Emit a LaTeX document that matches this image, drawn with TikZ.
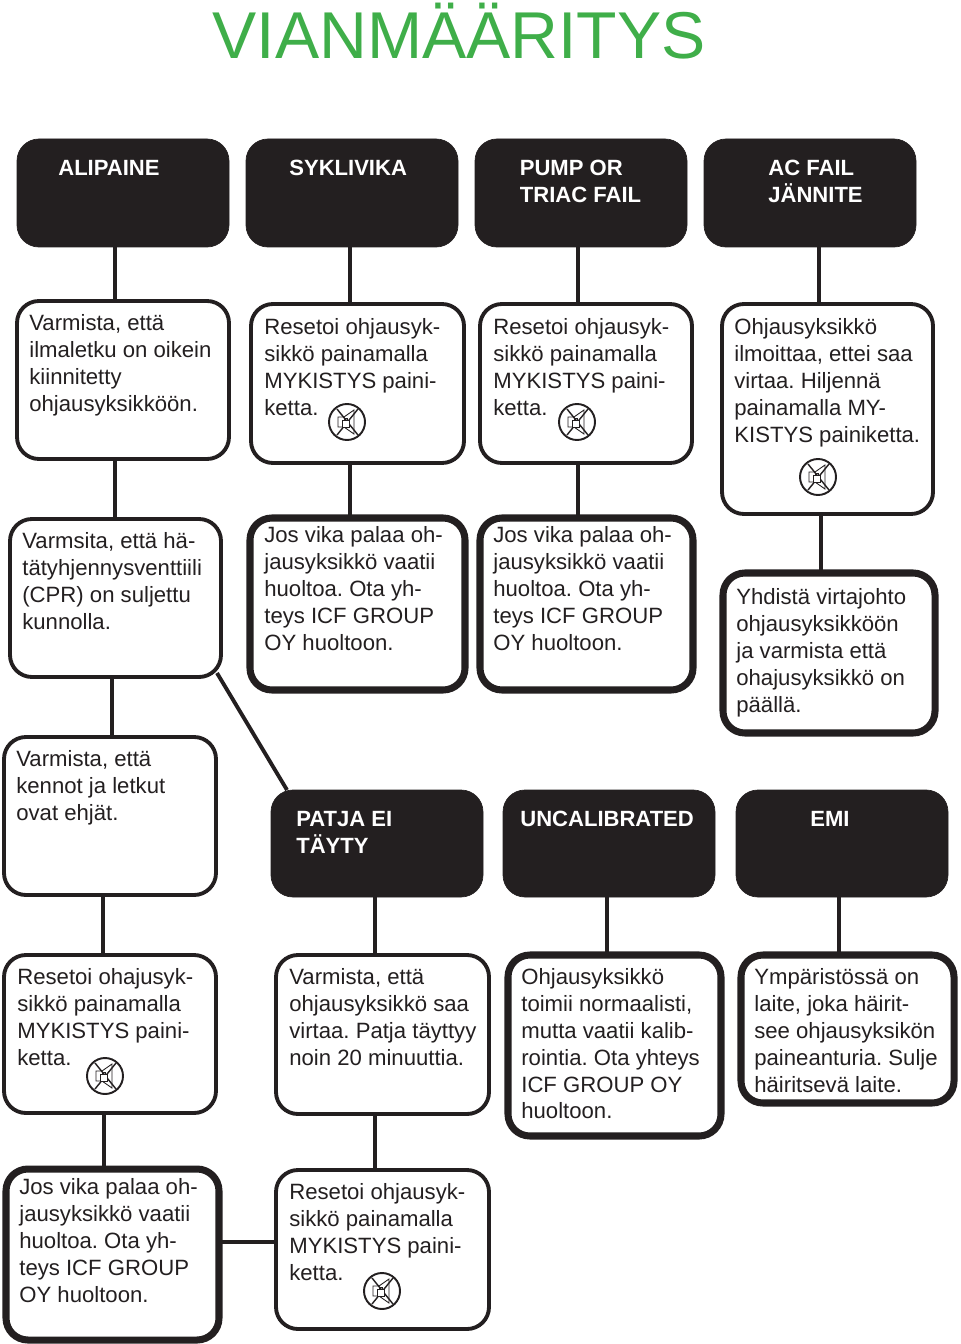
\documentclass[tikz,border=0pt]{standalone}
\usepackage{fontspec}
\setmainfont{Liberation Sans}
\definecolor{titlegreen}{HTML}{3FAE49}
\definecolor{boxdark}{HTML}{231F20}
\newcommand{\px}{0.02cm}
\tikzset{
    boxsize/.style 2 args={minimum width=#1*\px, minimum height=#2*\px},
    headbox/.style={fill=boxdark, draw=boxdark, rounded corners=12.5pt, outer sep=0pt, inner sep=0pt},
    softbox/.style={fill=white, draw=boxdark, line width=2.2pt, rounded corners=12.5pt, outer sep=0pt, inner sep=0pt},
    hardbox/.style={softbox, line width=4pt},
    boxtext/.style={anchor=north west, inner sep=0pt, align=left, text=boxdark, yshift=-2.5*\px,
        font=\fontsize{12.6}{15.25}\selectfont, execute at begin node=\frenchspacing\strut},
    headtext/.style={boxtext, text=white, yshift=-0.5*\px, font=\fontsize{12.55}{15.25}\selectfont\bfseries},
    link/.style={draw=boxdark, line width=2.2pt},
    pics/muteicon/.style={code={
        \draw[boxdark, line width=1.1pt] (0,0) circle (18);
        \draw[boxdark, line width=0.5pt] (-9,-5) -- (-3,-5) -- (7,-12) -- (7,12) -- (-3,5) -- (-9,5) -- cycle;
        \draw[boxdark, line width=0.8pt] (-10,-13) -- (11,13);
        \draw[boxdark, line width=0.8pt] (-10,13) -- (11,-13);
        \draw[boxdark, line width=0.5pt, fill=white] (-5,-2) rectangle (2,5);
        \draw[boxdark, line width=0.4pt] (-3,-2) -- (-3,-4) -- (0,-4) -- (0,-2);
    }}
}
\begin{document}
\begin{tikzpicture}[x=0.02cm, y=-0.02cm]
    \useasboundingbox (0,0) rectangle (960,1344);

    % otsikko
    \node[text=titlegreen, inner sep=0pt, font=\fontsize{37.7}{40}\selectfont] (title) at (459,31) {VIANMÄÄRITYS};

    % ylarivi
    \node[headbox, boxsize={212}{108}] (alipaine) at (123,193) {};
    \node[headbox, boxsize={212}{108}] (syklivika) at (352,193) {};
    \node[headbox, boxsize={212}{108}] (pump) at (581,193) {};
    \node[headbox, boxsize={212}{108}] (acfail) at (810,193) {};
    \node[headtext] (alipainetext) at (58,153) {ALIPAINE};
    \node[headtext] (syklivikatext) at (289,153) {SYKLIVIKA};
    \node[headtext] (pumptext) at (519.5,157) {PUMP OR\\TRIAC FAIL};
    \node[headtext] (acfailtext) at (768,157) {AC FAIL\\JÄNNITE};

    % ensimmaiset ohjeet
    \node[softbox, boxsize={212}{158}] (ilmaletku) at (123,380) {};
    \node[softbox, boxsize={213}{159}] (resetsykli) at (357.5,383.5) {};
    \node[softbox, boxsize={212}{159}] (resetpump) at (586,383.5) {};
    \node[softbox, boxsize={211}{210}] (virta) at (827.5,409) {};
    \node[boxtext] (ilmaletkutext) at (29,312) {Varmista, että\\ilmaletku on oikein\\kiinnitetty\\ohjausyksikköön.};
    \node[boxtext] (resetsyklitext) at (264,316) {Resetoi ohjausyk-\\sikkö painamalla\\MYKISTYS paini-\\ketta.};
    \node[boxtext] (resetpumptext) at (493,316) {Resetoi ohjausyk-\\sikkö painamalla\\MYKISTYS paini-\\ketta.};
    \node[boxtext] (virtatext) at (734,316) {Ohjausyksikkö\\ilmoittaa, ettei saa\\virtaa. Hiljennä\\painamalla MY-\\KISTYS painiketta.};
    \pic at (347,422) {muteicon};
    \pic at (577,422) {muteicon};
    \pic at (818,477) {muteicon};

    % toiset ohjeet
    \node[softbox, boxsize={211}{158}] (cpr) at (115.5,598) {};
    \node[hardbox, boxsize={215}{172}] (huoltosykli) at (357.5,604) {};
    \node[hardbox, boxsize={213}{172}] (huoltopump) at (586.5,604) {};
    \node[hardbox, boxsize={212}{160}] (johto) at (829,653) {};
    \node[boxtext] (cprtext) at (22,530) {Varmsita, että hä-\\tätyhjennysventtiili\\(CPR) on suljettu\\kunnolla.};
    \node[boxtext] (huoltosyklitext) at (264,524) {Jos vika palaa oh-\\jausyksikkö vaatii\\huoltoa. Ota yh-\\teys ICF GROUP\\OY huoltoon.};
    \node[boxtext] (huoltopumptext) at (493,524) {Jos vika palaa oh-\\jausyksikkö vaatii\\huoltoa. Ota yh-\\teys ICF GROUP\\OY huoltoon.};
    \node[boxtext] (johtotext) at (736,586) {Yhdistä virtajohto\\ohjausyksikköön\\ja varmista että\\ohajusyksikkö on\\päällä.};

    % keskirivi
    \node[softbox, boxsize={212}{158}] (kennot) at (110,816) {};
    \node[headbox, boxsize={212}{107}] (patja) at (377,843.5) {};
    \node[headbox, boxsize={212}{107}] (uncal) at (609,843.5) {};
    \node[headbox, boxsize={212}{107}] (emi) at (842,843.5) {};
    \node[boxtext] (kennottext) at (16,748) {Varmista, että\\kennot ja letkut\\ovat ehjät.};
    \node[headtext] (patjatext) at (296,808) {PATJA EI\\TÄYTY};
    \node[headtext] (uncaltext) at (520,804) {UNCALIBRATED};
    \node[headtext] (emitext) at (810,804) {EMI};

    % alemmat ohjeet
    \node[softbox, boxsize={212}{158}] (resetkenno) at (110,1034) {};
    \node[softbox, boxsize={213}{159}] (patjavirta) at (382.5,1034.5) {};
    \node[hardbox, boxsize={213}{181}] (kalib) at (614.5,1045.5) {};
    \node[hardbox, boxsize={213}{148}] (hairio) at (847.5,1029) {};
    \node[boxtext] (resetkennotext) at (17,966) {Resetoi ohajusyk-\\sikkö painamalla\\MYKISTYS paini-\\ketta.};
    \node[boxtext] (patjavirtatext) at (289,966) {Varmista, että\\ohjausyksikkö saa\\virtaa. Patja täyttyy\\noin 20 minuuttia.};
    \node[boxtext] (kalibtext) at (521,966) {Ohjausyksikkö\\toimii normaalisti,\\mutta vaatii kalib-\\rointia. Ota yhteys\\ICF GROUP OY\\huoltoon.};
    \node[boxtext] (hairiotext) at (754,966) {Ympäristössä on\\laite, joka häirit-\\see ohjausyksikön\\paineanturia. Sulje\\häiritsevä laite.};
    \pic at (105,1076) {muteicon};

    % alin rivi
    \node[hardbox, boxsize={213}{171}] (huoltokenno) at (112.5,1254.5) {};
    \node[softbox, boxsize={213}{159}] (resetpatja) at (382.5,1249.5) {};
    \node[boxtext] (huoltokennotext) at (19,1176) {Jos vika palaa oh-\\jausyksikkö vaatii\\huoltoa. Ota yh-\\teys ICF GROUP\\OY huoltoon.};
    \node[boxtext] (resetpatjatext) at (289,1181) {Resetoi ohjausyk-\\sikkö painamalla\\MYKISTYS paini-\\ketta.};
    \pic at (382,1291) {muteicon};

    % yhdysviivat
    \draw[link] (alipaine.south -| 115,0) -- (ilmaletku.north -| 115,0);
    \draw[link] (syklivika.south -| 350,0) -- (resetsykli.north -| 350,0);
    \draw[link] (pump.south -| 578,0) -- (resetpump.north -| 578,0);
    \draw[link] (acfail.south -| 819,0) -- (virta.north -| 819,0);
    \draw[link] (ilmaletku.south -| 115,0) -- (cpr.north -| 115,0);
    \draw[link] (resetsykli.south -| 350,0) -- (huoltosykli.north -| 350,0);
    \draw[link] (resetpump.south -| 578,0) -- (huoltopump.north -| 578,0);
    \draw[link] (virta.south -| 821,0) -- (johto.north -| 821,0);
    \draw[link] (cpr.south -| 112,0) -- (kennot.north -| 112,0);
    \draw[link] ([xshift=-4*\px,yshift=4*\px]cpr.south east) -- ([xshift=16*\px]patja.north west);
    \draw[link] (kennot.south -| 103,0) -- (resetkenno.north -| 103,0);
    \draw[link] (patja.south -| 375,0) -- (patjavirta.north -| 375,0);
    \draw[link] (uncal.south -| 607,0) -- (kalib.north -| 607,0);
    \draw[link] (emi.south -| 839,0) -- (hairio.north -| 839,0);
    \draw[link] (resetkenno.south -| 104,0) -- (huoltokenno.north -| 104,0);
    \draw[link] (patjavirta.south -| 375,0) -- (resetpatja.north -| 375,0);
    \draw[link] (huoltokenno.east |- 0,1242) -- (resetpatja.west |- 0,1242);
\end{tikzpicture}
\end{document}
